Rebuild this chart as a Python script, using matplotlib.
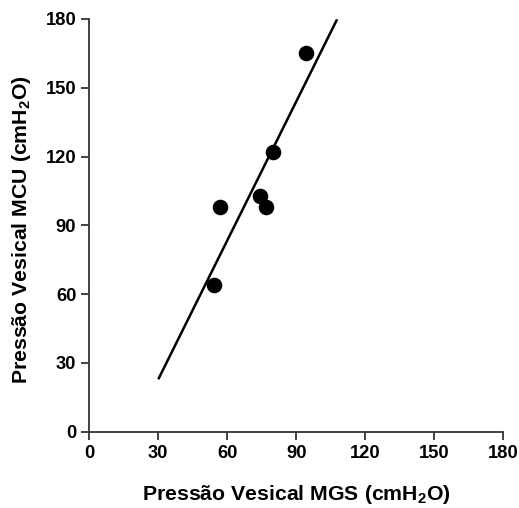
import matplotlib
matplotlib.use("Agg")
import matplotlib.pyplot as plt
import numpy as np

plt.rcParams['font.family'] = ['Liberation Sans', 'DejaVu Sans']
plt.rcParams['mathtext.fontset'] = 'custom'
plt.rcParams['mathtext.rm'] = 'Liberation Sans:bold'
plt.rcParams['mathtext.it'] = 'Liberation Sans:bold'
plt.rcParams['mathtext.bf'] = 'Liberation Sans:bold'

# Data
mgs = [54, 57, 74, 77, 80, 94]
mcu = [64, 98, 103, 98, 122, 165]
fit_x = [30, 107.7]
fit_slope = 2.02
fit_intercept = -37.7
ticks = [0, 30, 60, 90, 120, 150, 180]

fig = plt.figure(figsize=(5.19, 5.08), dpi=100)
ax = fig.add_axes([0.172, 0.150, 0.798, 0.8126])

fx = np.array(fit_x)
ax.plot(fx, fit_slope * fx + fit_intercept, color='black', lw=1.8, solid_capstyle='butt', zorder=2)
ax.plot(mgs, mcu, 'o', color='black', markersize=10.2, zorder=3)

ax.set_xlim(0, 180)
ax.set_ylim(0, 180)
ax.set_xticks(ticks)
ax.set_yticks(ticks)
for s in ['top', 'right']:
    ax.spines[s].set_visible(False)
for s in ['left', 'bottom']:
    ax.spines[s].set_linewidth(1.3)
    ax.spines[s].set_color('#333333')
ax.tick_params(direction='out', length=5.8, width=1.3, color='#333333', pad=3.5,
               labelsize=13.2)
for lab in ax.get_xticklabels() + ax.get_yticklabels():
    lab.set_fontweight('bold')
for ln in ax.lines:
    ln.set_clip_on(False)

ax.set_xlabel('Pressão Vesical MGS (cmH$_2$O)', fontsize=15.3, fontweight='bold', va='center')
ax.set_ylabel('Pressão Vesical MCU (cmH$_2$O)', fontsize=15.3, fontweight='bold', va='center')
ax.xaxis.set_label_coords(0.501, -0.153)
ax.yaxis.set_label_coords(-0.163, 0.489)

fig.savefig('out.png', dpi=100)
